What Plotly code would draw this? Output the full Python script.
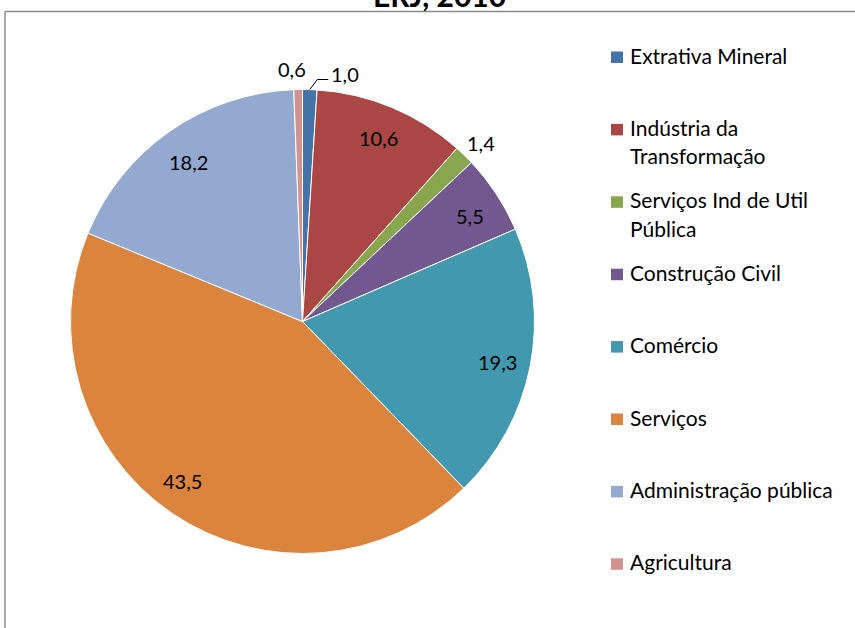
import math
import plotly.graph_objects as go

# ---------------- data ----------------
categories = ["Extrativa Mineral", "Indústria da Transformação", "Serviços Ind de Util Pública",
              "Construção Civil", "Comércio", "Serviços", "Administração pública", "Agricultura"]
values = [1.0, 10.6, 1.4, 5.5, 19.3, 43.5, 18.2, 0.6]
value_labels = ["1,0", "10,6", "1,4", "5,5", "19,3", "43,5", "18,2", "0,6"]
legend_lines = [["Extrativa Mineral"], ["Indústria da", "Transformação"], ["Serviços Ind de Util", "Pública"],
                ["Construção Civil"], ["Comércio"], ["Serviços"], ["Administração pública"], ["Agricultura"]]
title_text = "ERJ, 2010"

# ---------------- style ----------------
colors = ["#4572A7", "#AA4643", "#89A54E", "#71588F", "#4198AF", "#DB843D", "#93A9CF", "#D19392"]
W, H = 855, 628
FONT = "Lato, Calibri, 'Open Sans', sans-serif"
LEG_SIZE = 21
LAB_SIZE = 20
cx, cy, R = 302.5, 321.5, 232.0
label_rfac = [1.0, 0.855, 1.09, 0.855, 0.858, 0.862, 0.845, 1.09]
label_dang = [0, 0, 0.8, 1.2, 0.5, 2.7, -0.7, -1.2]


def px(x):
    return x / W


def py(y):
    return 1 - y / H


fig = go.Figure()
fig.add_trace(go.Pie(
    values=values, labels=categories, sort=False, direction="clockwise", rotation=0,
    marker=dict(colors=colors, line=dict(color="white", width=1)),
    textinfo="none", showlegend=False, hoverinfo="label+value",
    domain=dict(x=[px(cx - R), px(cx + R)], y=[py(cy + R), py(cy - R)]),
))

annotations = []
shapes = []

# data labels, positioned from cumulative slice angles
total = sum(values)
cum = 0.0
for i, v in enumerate(values):
    mid = (cum + v / 2) / total * 360.0
    cum += v
    if i == 0:
        # small slice with leader line
        a = math.radians(mid)
        ex, ey = cx + R * math.sin(a), cy - R * math.cos(a)
        a2 = math.radians(mid + 1.7)
        bx, by = cx + 1.045 * R * math.sin(a2), cy - 1.045 * R * math.cos(a2)
        fx, fy = bx + 11, by
        shapes.append(dict(type="path", xref="paper", yref="paper",
                           path=f"M {px(ex)},{py(ey)} L {px(bx)},{py(by)} L {px(fx)},{py(fy)}",
                           line=dict(color="black", width=1)))
        annotations.append(dict(x=px(fx + 1), y=py(fy - 6), xref="paper", yref="paper",
                                text=value_labels[i], showarrow=False, xanchor="left", yanchor="middle",
                                font=dict(family=FONT, size=LAB_SIZE, color="black")))
        continue
    a = math.radians(mid + label_dang[i])
    r = label_rfac[i] * R
    lx, ly = cx + r * math.sin(a), cy - r * math.cos(a)
    annotations.append(dict(x=px(lx), y=py(ly), xref="paper", yref="paper",
                            text=value_labels[i], showarrow=False, xanchor="center", yanchor="middle",
                            font=dict(family=FONT, size=LAB_SIZE, color="black")))

# manual legend
for i, lines in enumerate(legend_lines):
    y0 = 55 + 72.4 * i
    shapes.append(dict(type="rect", xref="paper", yref="paper",
                       x0=px(611), x1=px(623), y0=py(y0 + 8), y1=py(y0 - 3.5),
                       fillcolor=colors[i], line=dict(width=0)))
    for j, t in enumerate(lines):
        annotations.append(dict(x=px(628), y=py(y0 + 28.5 * j), xref="paper", yref="paper",
                                text=t, showarrow=False, xanchor="left", yanchor="middle",
                                font=dict(family=FONT, size=LEG_SIZE, color="black")))

# clipped title
annotations.append(dict(x=px(439), y=py(15), xref="paper", yref="paper", text=f"<b>{title_text}</b>",
                        showarrow=False, xanchor="center", yanchor="bottom",
                        font=dict(family=FONT, size=30, color="black")))

# chart area frame
shapes.append(dict(type="line", xref="paper", yref="paper", x0=px(5), x1=px(W + 5), y0=py(11.5), y1=py(11.5),
                   line=dict(color="#8a8a8a", width=1.5)))
shapes.append(dict(type="line", xref="paper", yref="paper", x0=px(5), x1=px(5), y0=py(11.5), y1=py(H + 5),
                   line=dict(color="#8a8a8a", width=1.5)))

fig.update_layout(
    width=W, height=H, margin=dict(l=0, r=0, t=0, b=0),
    paper_bgcolor="white", plot_bgcolor="white",
    font=dict(family=FONT),
    annotations=annotations, shapes=shapes,
)

fig.write_html("out.html", config={"displayModeBar": False},
               post_script="document.body.style.margin='0';document.body.style.padding='0';")
